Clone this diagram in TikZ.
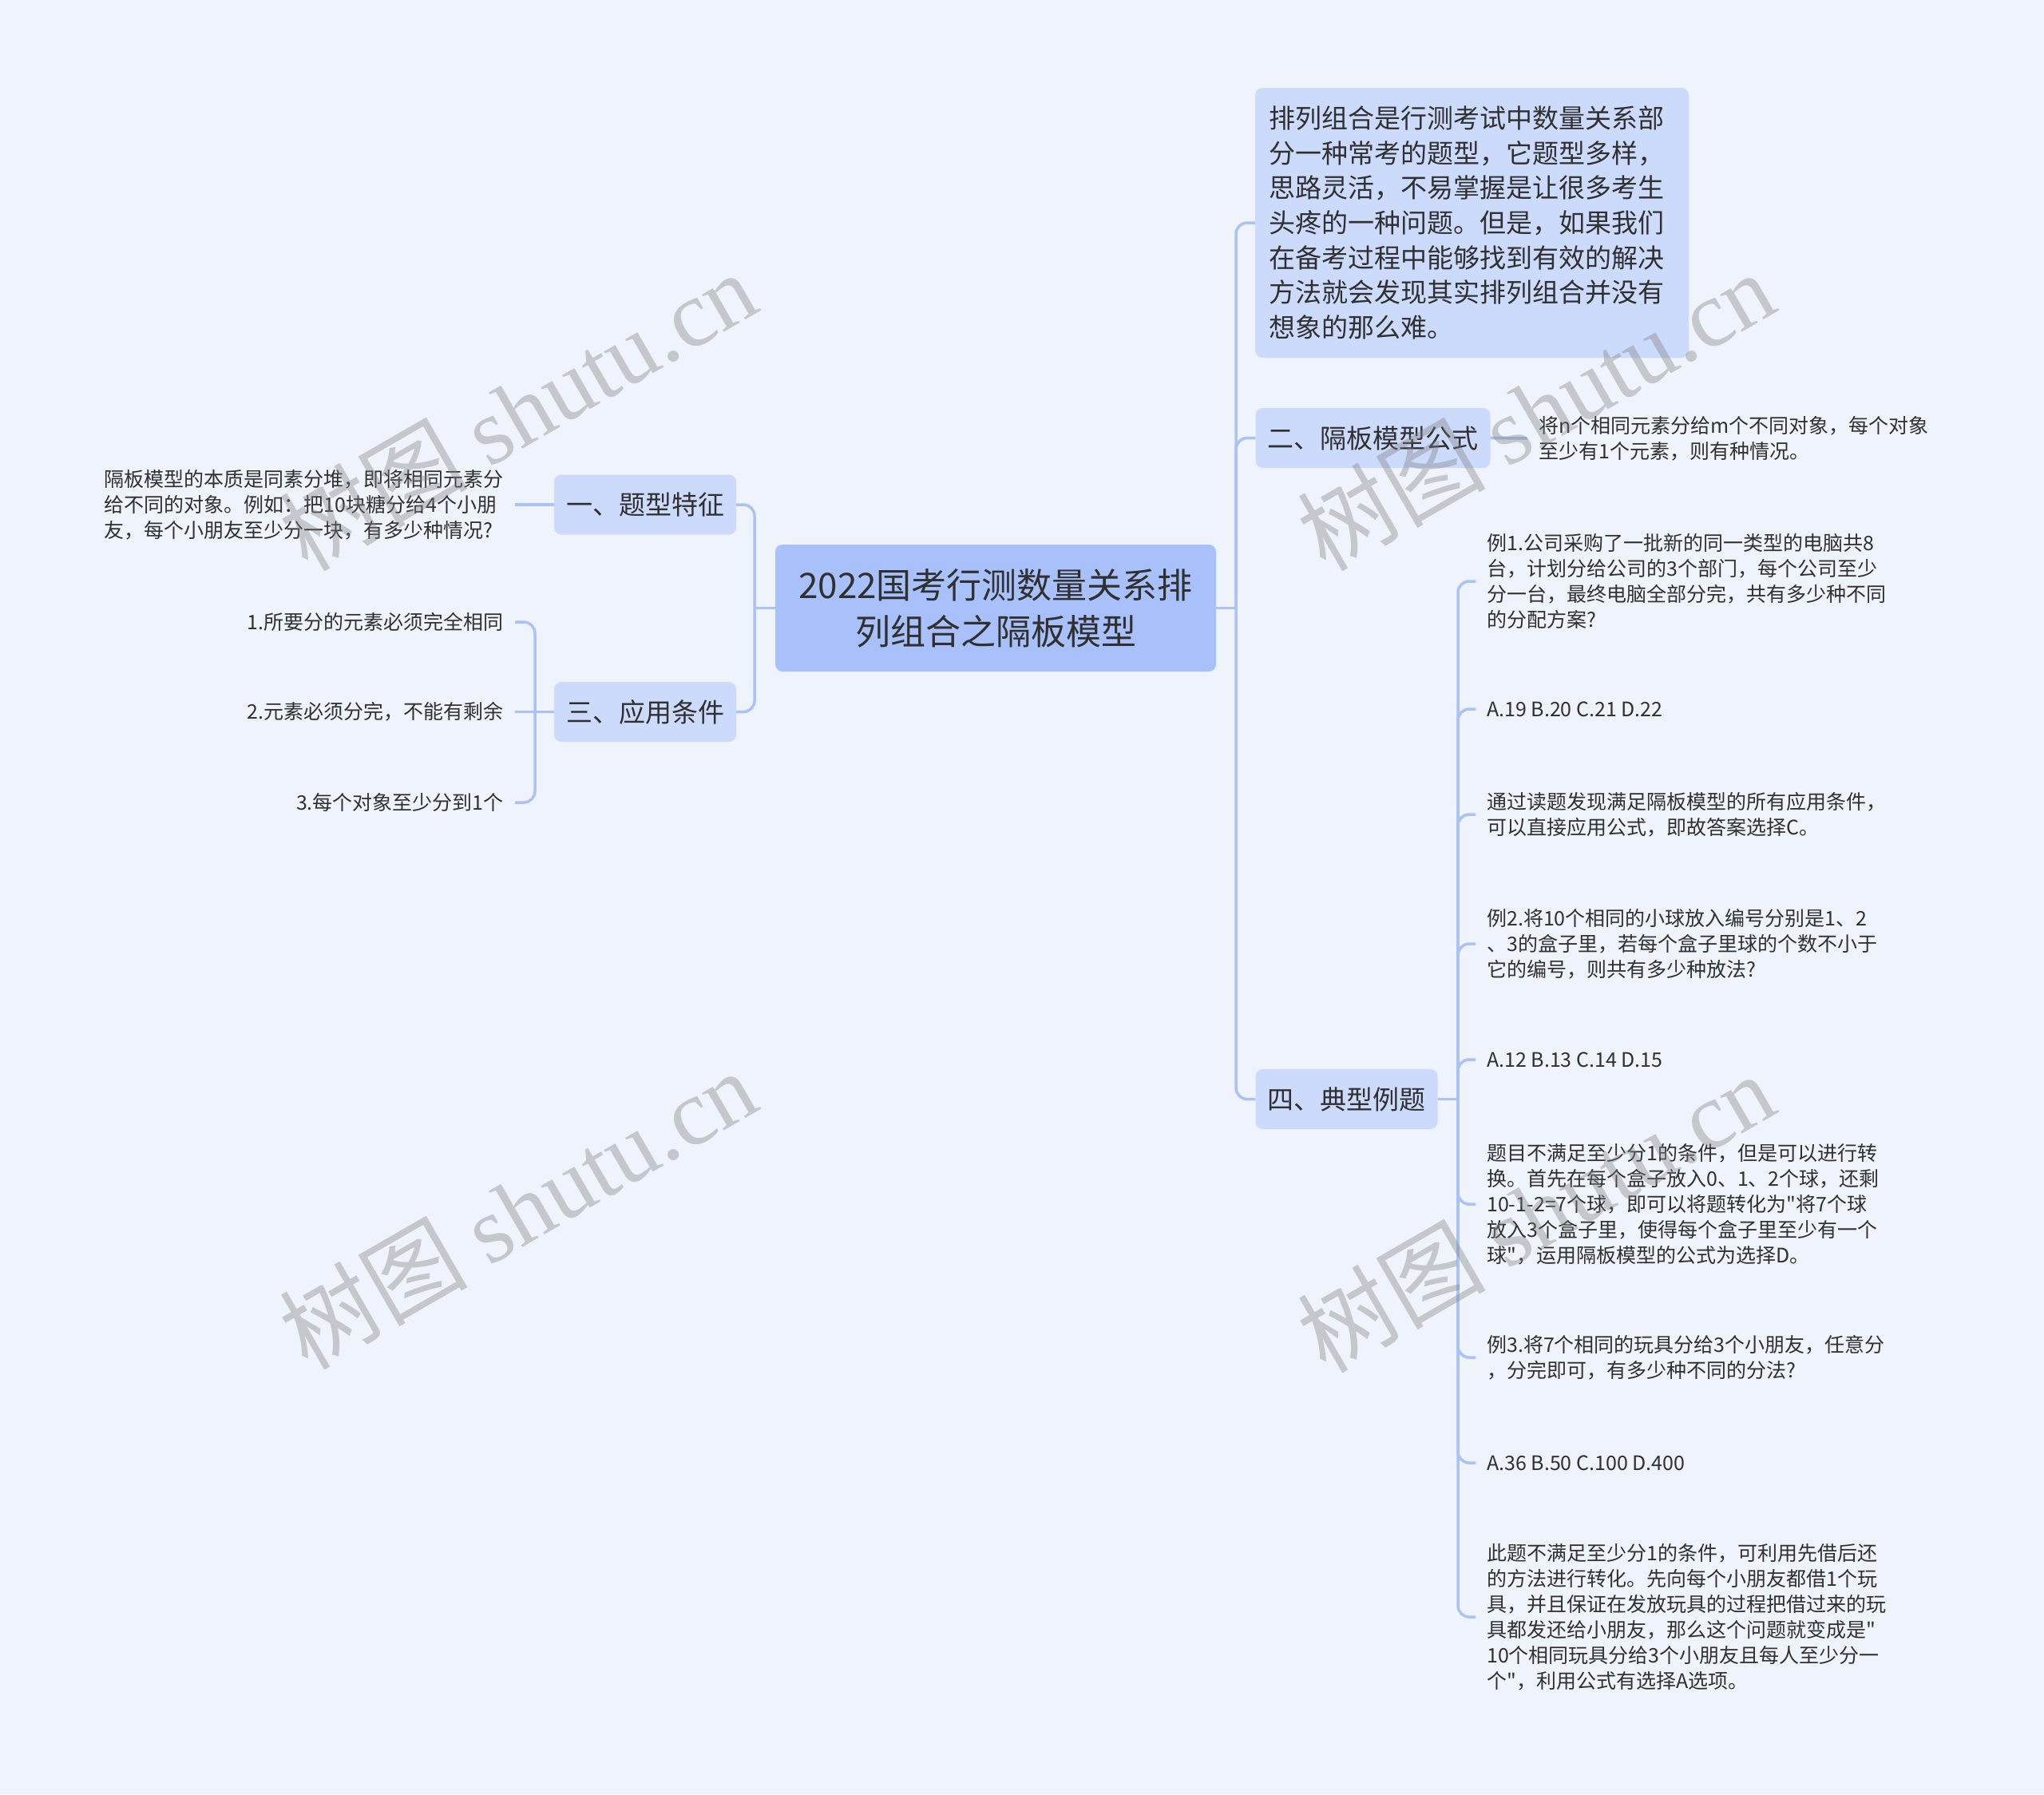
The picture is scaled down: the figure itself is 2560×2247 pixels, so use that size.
\documentclass[tikz,border=0pt]{standalone}
\usepackage{fontspec}
\setmainfont{Noto Sans CJK SC}[Ligatures=TeXOff]
\newfontfamily\wmfont{Liberation Serif}
\definecolor{bgc}{HTML}{EEF3FC}
\definecolor{rootc}{HTML}{A9C1FA}
\definecolor{boxc}{HTML}{CCDAFC}
\definecolor{linec}{HTML}{ABC3F4}
\definecolor{txtc}{HTML}{303030}
\begin{document}
\begin{tikzpicture}[x=1pt,y=-1pt,
  conn/.style={draw=linec, line width=3.5pt, rounded corners=14pt},
  root/.style={fill=rootc, rounded corners=9pt, minimum width=552pt, minimum height=159pt, align=center, font=\fontsize{44}{58}\selectfont, text=txtc, inner sep=0pt},
  topic/.style={fill=boxc, rounded corners=9pt, minimum height=75pt, inner xsep=15pt, inner ysep=0pt, font=\fontsize{33}{40}\selectfont, text=txtc},
  leaf/.style={font=\fontsize{25}{32}\selectfont, text=txtc, inner xsep=14pt, inner ysep=0pt},
  wm/.style={text=gray, opacity=0.38, rotate=30, font=\fontsize{118}{118}\selectfont}
]
\fill[bgc] (0,0) rectangle (2560,2247);
\useasboundingbox (0,0) rectangle (2560,2247);

% nodes
\node[root] (c) at (1247,761.5) {2022国考行测数量关系排\\列组合之隔板模型};
\node[topic] (t1) at (808,632) {一、题型特征};
\node[topic] (t3) at (808,891.5) {三、应用条件};
\node[topic] (t2) at (1719.5,548.5) {二、隔板模型公式};
\node[topic] (t4) at (1686.5,1376.5) {四、典型例题};
\node[topic, minimum width=543pt, minimum height=338pt, text width=509pt, align=left, inner xsep=17pt, font=\fontsize{33}{43.7}\selectfont] (t0) at (1843.5,279) {排列组合是行测考试中数量关系部\\分一种常考的题型，它题型多样，\\思路灵活，不易掌握是让很多考生\\头疼的一种问题。但是，如果我们\\在备考过程中能够找到有效的解决\\方法就会发现其实排列组合并没有\\想象的那么难。};

\node[leaf, anchor=east, align=left] (l1) at (645,632) {隔板模型的本质是同素分堆，即将相同元素分\\给不同的对象。例如：把10块糖分给4个小朋\\友，每个小朋友至少分一块，有多少种情况?};
\node[leaf, anchor=east] (i1) at (645,779) {1.所要分的元素必须完全相同};
\node[leaf, anchor=east] (i2) at (645,891.5) {2.元素必须分完，不能有剩余};
\node[leaf, anchor=east] (i3) at (645,1005) {3.每个对象至少分到1个};
\node[leaf, anchor=west, align=left] (l2) at (1913,549) {将n个相同元素分给m个不同对象，每个对象\\至少有1个元素，则有种情况。};

\node[leaf, anchor=west, align=left] (r1) at (1848,728) {例1.公司采购了一批新的同一类型的电脑共8\\台，计划分给公司的3个部门，每个公司至少\\分一台，最终电脑全部分完，共有多少种不同\\的分配方案?};
\node[leaf, anchor=west, align=left] (r2) at (1848,888) {A.19 B.20 C.21 D.22};
\node[leaf, anchor=west, align=left] (r3) at (1848,1020) {通过读题发现满足隔板模型的所有应用条件，\\可以直接应用公式，即故答案选择C。};
\node[leaf, anchor=west, align=left] (r4) at (1848,1182) {例2.将10个相同的小球放入编号分别是1、2\\、3的盒子里，若每个盒子里球的个数不小于\\它的编号，则共有多少种放法?};
\node[leaf, anchor=west, align=left] (r5) at (1848,1327) {A.12 B.13 C.14 D.15};
\node[leaf, anchor=west, align=left] (r6) at (1848,1508) {题目不满足至少分1的条件，但是可以进行转\\换。首先在每个盒子放入0、1、2个球，还剩\\10-1-2=7个球，即可以将题转化为"将7个球\\放入3个盒子里，使得每个盒子里至少有一个\\球"，运用隔板模型的公式为选择D。};
\node[leaf, anchor=west, align=left] (r7) at (1848,1700) {例3.将7个相同的玩具分给3个小朋友，任意分\\，分完即可，有多少种不同的分法?};
\node[leaf, anchor=west, align=left] (r8) at (1848,1832) {A.36 B.50 C.100 D.400};
\node[leaf, anchor=west, align=left] (r9) at (1848,2025) {此题不满足至少分1的条件，可利用先借后还\\的方法进行转化。先向每个小朋友都借1个玩\\具，并且保证在发放玩具的过程把借过来的玩\\具都发还给小朋友，那么这个问题就变成是"\\10个相同玩具分给3个小朋友且每人至少分一\\个"，利用公式有选择A选项。};

% junctions
\coordinate (jl) at (945,761.5);
\coordinate (jr) at (1548,761.5);
\coordinate (j3) at (670,891.5);
\coordinate (j4) at (1826,1376.5);

% connectors
\draw[conn] (c.west) -- (jl);
\draw[conn] (jl) |- (t1.east);
\draw[conn] (jl) |- (t3.east);
\draw[conn] (c.east) -- (jr);
\draw[conn] (jr) |- (t0.west);
\draw[conn] (jr) |- (t2.west);
\draw[conn] (jr) |- (t4.west);
\draw[conn] (t1.west) -- (l1.east);
\draw[conn] (t3.west) -- (j3);
\draw[conn] (j3) |- (i1.east);
\draw[conn] (j3) -- (i2.east);
\draw[conn] (j3) |- (i3.east);
\draw[conn] (t2.east) -- (l2.west);
\draw[conn] (t4.east) -- (j4);
\foreach \r in {r1,r2,r3,r4,r5,r6,r7,r8,r9} {\draw[conn] (j4) |- (\r.west);}

% watermarks
\node[wm] (w1) at (648,514) {树图 {\wmfont shutu.cn}};
\node[wm] (w2) at (1923,514) {树图 {\wmfont shutu.cn}};
\node[wm] (w3) at (648,1514) {树图 {\wmfont shutu.cn}};
\node[wm] (w4) at (1923,1518) {树图 {\wmfont shutu.cn}};
\end{tikzpicture}
\end{document}
